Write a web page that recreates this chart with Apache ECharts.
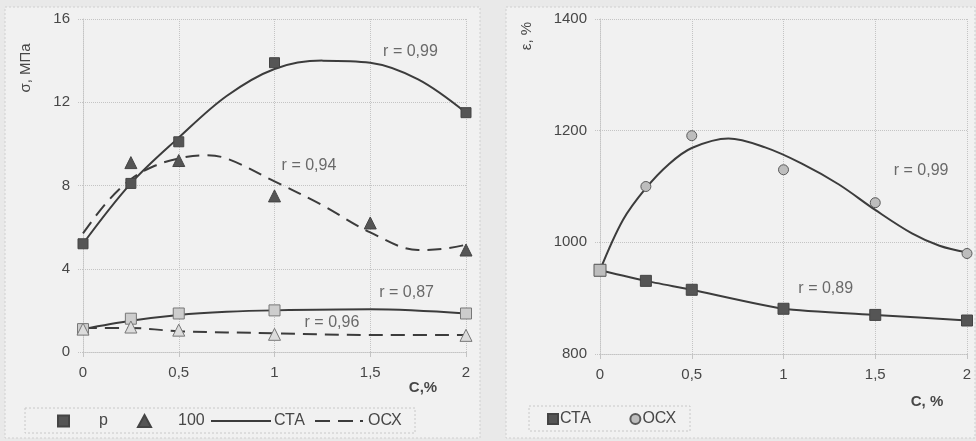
<!DOCTYPE html>
<html><head><meta charset="utf-8">
<script src="https://cdn.jsdelivr.net/npm/echarts@6/dist/echarts.min.js"></script>
<style>html,body{margin:0;padding:0;background:#e9e9e9}#c{width:976px;height:441px}</style>
</head><body><div id="c"></div>
<script>
// ---- Left chart (σ, МПа) ----
const leftTicks = [0, 4, 8, 12, 16];
const xTicks = [0, 0.5, 1, 1.5, 2];
const pCtaX = [0, 0.25, 0.5, 1, 2];
const pCtaY = [5.2, 8.1, 10.1, 13.9, 11.5];
const pOcxX = [0.25, 0.5, 1, 1.5, 2];
const pOcxY = [9.1, 9.2, 7.5, 6.2, 4.9];
const h100CtaX = [0, 0.25, 0.5, 1, 2];
const h100CtaY = [1.1, 1.6, 1.85, 2.0, 1.85];
const h100OcxX = [0, 0.25, 0.5, 1, 2];
const h100OcxY = [1.1, 1.2, 1.05, 0.85, 0.8];
// fitted curves
const fitPCtaX = [0, 0.25, 0.5, 0.75, 1, 1.25, 1.5, 1.75, 2];
const fitPCtaY = [5.2, 8.1, 10.3, 12.3, 13.6, 14.0, 13.9, 13.1, 11.5];
const fitPOcxX = [0, 0.125, 0.25, 0.375, 0.5, 0.625, 0.75, 1, 1.25, 1.5, 1.75, 1.875, 2];
const fitPOcxY = [5.7, 7.2, 8.3, 8.95, 9.3, 9.45, 9.3, 8.2, 7.05, 5.75, 4.9, 4.95, 5.15];
const fit100CtaX = [0, 0.25, 0.5, 0.75, 1, 1.5, 2];
const fit100CtaY = [1.1, 1.5, 1.78, 1.93, 2.0, 2.05, 1.85];
const fit100OcxX = [0, 0.25, 0.5, 1, 1.5, 2];
const fit100OcxY = [1.15, 1.15, 1.0, 0.9, 0.82, 0.82];
const leftR = [
  {t: 'r = 0,99', x: 1.71, y: 14.42},
  {t: 'r = 0,94', x: 1.18, y: 8.94},
  {t: 'r = 0,87', x: 1.69, y: 2.87},
  {t: 'r = 0,96', x: 1.30, y: 1.43}
];
// ---- Right chart (ε, %) ----
const rightTicks = [800, 1000, 1200, 1400];
const epsX = [0, 0.25, 0.5, 1, 1.5, 2];
const epsCta = [950, 931, 915, 881, 870, 860];
const epsOcx = [950, 1100, 1191, 1130, 1071, 980];
const fitEpsOcxX = [0, 0.125, 0.25, 0.375, 0.5, 0.7, 0.9, 1.1, 1.3, 1.5, 1.7, 1.85, 2];
const fitEpsOcxY = [950, 1040, 1097, 1140, 1169, 1186, 1170, 1141, 1104, 1058, 1016, 994, 982];
const rightR = [
  {t: 'r = 0,99', x: 1.75, y: 1128},
  {t: 'r = 0,89', x: 1.23, y: 917}
];

const zip = (xs, ys) => xs.map((x, i) => [x, ys[i]]);
const FONT = 'Liberation Sans, Arial, sans-serif';
const TXT = '#474747';
const DARK = '#3c3c3c';
const GRIDC = '#c4c4c4';

function xAxis(gi) {
  return {
    type: 'value', gridIndex: gi, min: 0, max: 2, interval: 0.5,
    axisLine: {show: true, lineStyle: {color: GRIDC, type: 'dotted'}},
    axisTick: {show: true, length: 5, lineStyle: {color: GRIDC}},
    splitLine: {show: true, lineStyle: {color: GRIDC, type: 'dotted'}},
    axisLabel: {color: TXT, fontFamily: FONT, fontSize: 15, margin: 13,
      formatter: v => String(v).replace('.', ',')}
  };
}
function yAxis(gi, ticks) {
  return {
    type: 'value', gridIndex: gi, min: ticks[0], max: ticks[ticks.length - 1],
    interval: ticks[1] - ticks[0],
    axisLine: {show: true, lineStyle: {color: GRIDC, type: 'dotted'}},
    axisTick: {show: true, length: 6, lineStyle: {color: GRIDC, type: 'dotted'}},
    splitLine: {show: true, lineStyle: {color: GRIDC, type: 'dotted'}},
    axisLabel: {color: TXT, fontFamily: FONT, fontSize: 15, margin: 13, formatter: v => String(v)}
  };
}
function rLabels(arr, gi) {
  return {
    type: 'scatter', xAxisIndex: gi, yAxisIndex: gi, symbolSize: 0, z: 1, silent: true,
    data: arr.map(a => ({value: [a.x, a.y], label: {formatter: a.t}})),
    label: {show: true, position: 'inside', color: TXT, fontFamily: FONT, fontSize: 16}
  };
}
const lineSeries = (name, xs, ys, dashed, gi) => ({
  name, type: 'line', xAxisIndex: gi, yAxisIndex: gi, data: zip(xs, ys),
  smooth: 0.35, showSymbol: false, symbol: 'none', z: 2,
  lineStyle: {color: DARK, width: 2, type: dashed ? [14, 8] : 'solid'},
  itemStyle: {color: DARK}
});
const scat = (name, xs, ys, symbol, size, fill, border, gi) => ({
  name, type: 'scatter', xAxisIndex: gi, yAxisIndex: gi, data: zip(xs, ys),
  symbol, symbolSize: size, z: 3,
  itemStyle: {color: fill, borderColor: border, borderWidth: 1, opacity: 1}
});

const chart = echarts.init(document.getElementById('c'));
const legText = {color: TXT, fontFamily: FONT, fontSize: 16};
const lt = pad => Object.assign({}, legText, {padding: pad});
chart.setOption({
  backgroundColor: '#e9e9e9',
  animation: false,
  grid: [
    {left: 83, top: 19, width: 383, height: 333},
    {left: 600, top: 19, width: 367, height: 335}
  ],
  xAxis: [xAxis(0), xAxis(1)],
  yAxis: [yAxis(0, leftTicks), yAxis(1, rightTicks)],
  legend: [
    {data: [{name: 'p', icon: 'rect'}], left: 57, top: 413, itemWidth: 11, itemHeight: 11, textStyle: lt([0, 0, 0, 25]), padding: 0},
    {data: [{name: '100', icon: 'triangle'}], left: 137, top: 413, itemWidth: 13, itemHeight: 12, textStyle: lt([0, 0, 0, 22]), padding: 0},
    {data: [{name: 'СТА', icon: 'path://M0,0h60v2h-60z'}], left: 211, top: 413, itemWidth: 60, itemHeight: 2, textStyle: lt([0, 0, 0, -2]), padding: 0},
    {data: [{name: 'ОСХ', icon: 'path://M0,0h15v2h-15z M23,0h15v2h-15z M45,0h3v2h-3z'}], left: 315, top: 413, itemWidth: 48, itemHeight: 2, textStyle: lt([0, 0, 0, 0]), padding: 0},
    {data: [{name: 'СТА ', icon: 'rect'}, {name: 'ОСХ ', icon: 'circle'}], left: 547, top: 411, itemWidth: 10, itemHeight: 10, itemGap: 34, textStyle: lt([0, 0, 0, -3]), padding: 0}
  ],
  graphic: [
    {type: 'rect', z: -10, shape: {x: 5, y: 7, width: 475, height: 431}, style: {fill: '#f1f1f1', stroke: '#cfcfcf', lineDash: [2, 2]}},
    {type: 'rect', z: -10, shape: {x: 506, y: 7, width: 469, height: 431}, style: {fill: '#f1f1f1', stroke: '#cfcfcf', lineDash: [2, 2]}},
    {type: 'rect', z: -5, shape: {x: 25, y: 408, width: 390, height: 25}, style: {fill: 'none', stroke: '#c8c8c8', lineDash: [2, 2]}},
    {type: 'rect', z: -5, shape: {x: 529, y: 406, width: 161, height: 25}, style: {fill: 'none', stroke: '#c8c8c8', lineDash: [2, 2]}},
    {type: 'text', x: 26, y: 68, rotation: Math.PI / 2, style: {text: 'σ, МПа', fill: TXT, font: '15px ' + FONT, align: 'center', verticalAlign: 'middle'}},
    {type: 'text', x: 527, y: 36, rotation: Math.PI / 2, style: {text: 'ε, %', fill: TXT, font: '15px ' + FONT, align: 'center', verticalAlign: 'middle'}},
    {type: 'text', x: 423, y: 388, style: {text: 'C,%', fill: TXT, font: 'bold 15px ' + FONT, align: 'center', verticalAlign: 'middle'}},
    {type: 'text', x: 927, y: 402, style: {text: 'C, %', fill: TXT, font: 'bold 15px ' + FONT, align: 'center', verticalAlign: 'middle'}}
  ],
  series: [
    lineSeries('СТА', fitPCtaX, fitPCtaY, false, 0),
    lineSeries('ОСХ', fitPOcxX, fitPOcxY, true, 0),
    lineSeries('fit100cta', fit100CtaX, fit100CtaY, false, 0),
    lineSeries('fit100ocx', fit100OcxX, fit100OcxY, true, 0),
    scat('p', pCtaX, pCtaY, 'rect', 10, '#555555', '#444444', 0),
    scat('100', pOcxX, pOcxY, 'triangle', 12, '#555555', '#444444', 0),
    scat('s100cta', h100CtaX, h100CtaY, 'rect', 11, '#cdcdcd', '#777777', 0),
    scat('s100ocx', h100OcxX, h100OcxY, 'triangle', 12, '#dcdcdc', '#777777', 0),
    rLabels(leftR, 0),
    lineSeries('fitEps', fitEpsOcxX, fitEpsOcxY, false, 1),
    Object.assign(lineSeries('ctaEpsLine', epsX, epsCta, false, 1), {smooth: 0.2}),
    scat('СТА ', epsX, epsCta, 'rect', 11, '#555555', '#444444', 1),
    Object.assign(scat('ОСХ ', epsX, epsOcx, 'circle', 10, '#bdbdbd', '#5a5a5a', 1),
      {symbol: (v, p) => p.dataIndex === 0 ? 'rect' : 'circle', symbolSize: (v, p) => p.dataIndex === 0 ? 12 : 10}),
    rLabels(rightR, 1)
  ]
});
</script></body></html>
